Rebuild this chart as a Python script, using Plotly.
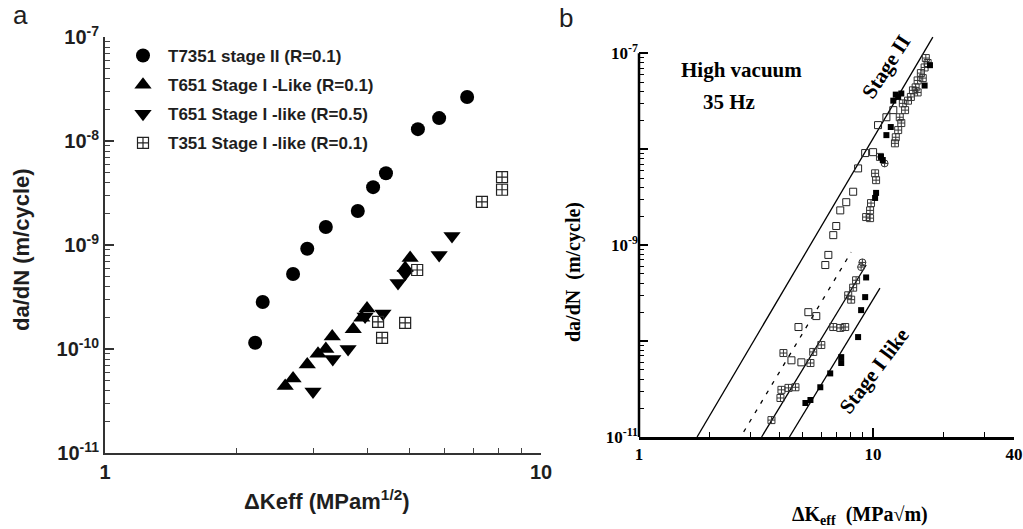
import plotly.graph_objects as go

# ---------------- Panel a data ----------------
t7351_x = [2.21, 2.30, 2.70, 2.91, 3.21, 3.80, 4.12, 4.41, 5.22, 5.84, 6.77]
t7351_y = [1.15e-10, 2.83e-10, 5.26e-10, 9.2e-10, 1.49e-9, 2.12e-9, 3.6e-9, 4.9e-9, 1.30e-8, 1.66e-8, 2.65e-8]
t651_r01_x = [2.59, 2.70, 2.91, 3.08, 3.21, 3.32, 3.71, 3.88, 3.99, 4.88, 5.01]
t651_r01_y = [4.4e-11, 5.2e-11, 7.1e-11, 9.0e-11, 1.0e-10, 1.32e-10, 1.55e-10, 2.0e-10, 2.45e-10, 6.0e-10, 7.5e-10]
t651_r05_x = [3.0, 3.33, 3.61, 3.95, 4.34, 4.70, 4.88, 5.84, 6.25]
t651_r05_y = [3.9e-11, 8.0e-11, 1.0e-10, 2.05e-10, 2.2e-10, 4.3e-10, 5.3e-10, 8.0e-10, 1.22e-9]
t351_x = [4.23, 4.32, 4.88, 5.20, 7.32, 8.14, 8.14]
t351_y = [1.82e-10, 1.28e-10, 1.78e-10, 5.75e-10, 2.6e-9, 4.5e-9, 3.4e-9]

# ---------------- Panel b data ----------------
open_sq_x = [4.80, 5.29, 5.72, 6.25, 6.44, 4.48, 4.94, 6.76, 6.96, 7.24, 7.68, 8.22, 8.63, 9.25, 10.0, 10.5, 11.4, 12.2]
open_sq_y = [1.40e-10, 2.0e-10, 1.82e-10, 6.2e-10, 7.9e-10, 6.3e-11, 6.0e-11, 1.27e-9, 1.58e-9, 2.3e-9, 2.8e-9, 3.6e-9,
             6.3e-9, 9.1e-9, 9.3e-9, 1.78e-8, 2.15e-8, 2.55e-8]
hatch_sq_x = [3.68, 4.02, 4.06, 4.35, 4.66, 4.14, 5.40, 5.55, 6.01, 6.76, 7.24, 7.60, 7.83, 8.06, 8.22, 8.46,
              9.34, 9.71, 9.71, 9.80, 10.3, 10.2, 10.7, 12.4, 12.5, 12.8, 13.2, 13.0, 13.7, 14.1, 14.5, 14.8,
              15.2, 15.5, 16.0, 16.6, 17.1, 16.8, 13.4, 15.5, 16.3]
hatch_sq_y = [1.5e-11, 2.55e-11, 3.1e-11, 3.25e-11, 3.3e-11, 7.5e-11, 5.9e-11, 7.7e-11, 9.1e-11, 1.40e-10, 1.37e-10,
              1.40e-10, 3.0e-10, 2.7e-10, 3.6e-10, 4.3e-10,
              1.96e-9, 2.3e-9, 1.91e-9, 2.74e-9, 4.75e-9, 5.6e-9, 8.3e-9, 1.15e-8, 1.33e-8, 1.58e-8, 1.87e-8,
              2.15e-8, 2.55e-8, 3.2e-8, 3.5e-8, 4.1e-8, 4.4e-8, 5.2e-8, 6.2e-8, 7.1e-8, 7.9e-8, 8.9e-8,
              3.0e-8, 3.9e-8, 5.5e-8]
circ_x = [8.89, 9.0, 11.2]
circ_y = [5.9e-10, 6.6e-10, 7.1e-9]
filled_sq_x = [5.14, 5.40, 5.95, 6.56, 7.31, 7.31, 8.63, 8.89, 9.25, 9.34,
               10.3, 10.8, 11.0, 11.4, 12.2, 12.5, 12.8, 13.2, 16.6, 17.5, 11.9, 10.2]
filled_sq_y = [2.26e-11, 2.43e-11, 3.3e-11, 4.6e-11, 5.9e-11, 6.8e-11, 1.10e-10, 2.1e-10, 2.87e-10, 4.6e-10,
               3.5e-9, 8.3e-9, 7.7e-9, 1.40e-8, 3.2e-8, 3.7e-8, 3.5e-8, 3.8e-8, 4.6e-8, 7.5e-8, 1.7e-8, 3.1e-9]

stage2_x = [1.77, 18.0]
stage2_y = [1e-11, 1.47e-7]
dashed_x = [2.80, 8.06]
dashed_y = [1.13e-11, 8.45e-10]
mid_x = [3.34, 9.34]
mid_y = [1e-11, 6.2e-10]
stage1_x = [4.39, 10.7]
stage1_y = [1e-11, 3.56e-10]

# tick definitions
decades = [1e-11, 1e-10, 1e-9, 1e-8, 1e-7]
decade_labels_a = ["10<sup>-11</sup>", "10<sup>-10</sup>", "10<sup>-9</sup>", "10<sup>-8</sup>", "10<sup>-7</sup>"]
decade_labels_b = ["10<sup>-11</sup>", "", "10<sup>-9</sup>", "", "10<sup>-7</sup>"]
minor_y = [m * d for d in [1e-11, 1e-10, 1e-9, 1e-8] for m in range(2, 10)]
minor_xa = [float(m) for m in range(2, 10)]
minor_xb = [float(m) for m in range(2, 10)] + [20.0, 30.0, 40.0]

W, H = 1023, 529
ax_a = dict(l=105, r=541, b=453, t=37)
ax_b = dict(l=639, r=1014, b=437, t=34)

SANS = "Liberation Sans, Arial, sans-serif"
SERIF = "Liberation Serif, Times New Roman, serif"
INK = "#1e1e1e"

fig = go.Figure()

# panel a traces
fig.add_trace(go.Scatter(x=t7351_x, y=t7351_y, mode="markers", name="<b>T7351 stage II (R=0.1)</b>",
                         marker=dict(symbol="circle", size=14, color="black"), legendgroup="g1",
                         xaxis="x", yaxis="y"))
fig.add_trace(go.Scatter(x=t651_r01_x, y=t651_r01_y, mode="markers", name="<b>T651 Stage I -Like (R=0.1)</b>",
                         marker=dict(symbol="triangle-up", size=15, color="black"), legendgroup="g2",
                         xaxis="x", yaxis="y"))
fig.add_trace(go.Scatter(x=t651_r05_x, y=t651_r05_y, mode="markers", name="<b>T651 Stage I -like (R=0.5)</b>",
                         marker=dict(symbol="triangle-down", size=15, color="black"), legendgroup="g3",
                         xaxis="x", yaxis="y"))
fig.add_trace(go.Scatter(x=t351_x, y=t351_y, mode="markers", name="<b>T351 Stage I -like (R=0.1)</b>",
                         marker=dict(symbol="square-cross-open", size=11, color="#222",
                                     line=dict(width=1.2, color="#222")), legendgroup="g4",
                         xaxis="x", yaxis="y"))

# panel b traces
line_style = dict(color="black", width=1.3)
fig.add_trace(go.Scatter(x=stage2_x, y=stage2_y, mode="lines", line=line_style, showlegend=False,
                         xaxis="x2", yaxis="y2"))
fig.add_trace(go.Scatter(x=dashed_x, y=dashed_y, mode="lines", line=dict(color="black", width=1.3, dash="4px,7px"),
                         showlegend=False, xaxis="x2", yaxis="y2"))
fig.add_trace(go.Scatter(x=mid_x, y=mid_y, mode="lines", line=line_style, showlegend=False,
                         xaxis="x2", yaxis="y2"))
fig.add_trace(go.Scatter(x=stage1_x, y=stage1_y, mode="lines", line=line_style, showlegend=False,
                         xaxis="x2", yaxis="y2"))
fig.add_trace(go.Scatter(x=open_sq_x, y=open_sq_y, mode="markers", showlegend=False,
                         marker=dict(symbol="square-open", size=7, color="#222", line=dict(width=1)),
                         xaxis="x2", yaxis="y2"))
fig.add_trace(go.Scatter(x=hatch_sq_x, y=hatch_sq_y, mode="markers", showlegend=False,
                         marker=dict(symbol="square-cross-open", size=7, color="#333", line=dict(width=1)),
                         xaxis="x2", yaxis="y2"))
fig.add_trace(go.Scatter(x=circ_x, y=circ_y, mode="markers", showlegend=False,
                         marker=dict(symbol="circle-cross-open", size=7, color="#333", line=dict(width=1)),
                         xaxis="x2", yaxis="y2"))
fig.add_trace(go.Scatter(x=filled_sq_x, y=filled_sq_y, mode="markers", showlegend=False,
                         marker=dict(symbol="square", size=6, color="black"),
                         xaxis="x2", yaxis="y2"))

# invisible traces to host minor-tick overlay axes
fig.add_trace(go.Scatter(x=[None], y=[None], mode="markers", showlegend=False, hoverinfo="skip",
                         xaxis="x3", yaxis="y3"))
fig.add_trace(go.Scatter(x=[None], y=[None], mode="markers", showlegend=False, hoverinfo="skip",
                         xaxis="x4", yaxis="y4"))


def px_dom_x(a, b):
    return [a / W, b / W]


def px_dom_y(top, bottom):
    return [1 - bottom / H, 1 - top / H]


dom_xa = px_dom_x(ax_a["l"], ax_a["r"])
dom_ya = px_dom_y(ax_a["t"], ax_a["b"])
dom_xb = px_dom_x(ax_b["l"], ax_b["r"])
dom_yb = px_dom_y(ax_b["t"], ax_b["b"])
rng_xb = [0, 1.602]
rng_yb = [-11, -6.8]

common = dict(showgrid=False, zeroline=False, fixedrange=True, automargin=False)

fig.update_layout(
    width=W, height=H,
    margin=dict(l=0, r=0, t=0, b=0, pad=0, autoexpand=False),
    paper_bgcolor="white", plot_bgcolor="white",
    showlegend=True,
    legend=dict(x=118 / W, y=1 - 38 / H, xanchor="left", yanchor="top",
                font=dict(family=SANS, size=17, color=INK),
                bgcolor="rgba(0,0,0,0)", tracegroupgap=4, traceorder="grouped",
                itemsizing="trace", itemwidth=40),
    # ---- panel a main axes
    xaxis=dict(type="log", domain=dom_xa, range=[0, 1], anchor="y", **common,
               showline=True, linecolor="#333", linewidth=2,
               ticks="inside", ticklen=9, tickwidth=1.5, tickcolor="#333",
               tickvals=[1, 10], ticktext=["<b>1</b>", "<b>10</b>"],
               tickfont=dict(family=SANS, size=20, color=INK)),
    yaxis=dict(type="log", domain=dom_ya, range=[-11, -7], anchor="x", **common,
               showline=True, linecolor="#333", linewidth=2,
               ticks="inside", ticklen=9, tickwidth=1.5, tickcolor="#333",
               tickvals=decades, ticktext=["<b>" + t + "</b>" for t in decade_labels_a],
               tickfont=dict(family=SANS, size=20, color=INK)),
    # ---- panel a minor tick overlays
    xaxis3=dict(type="log", range=[0, 1], overlaying="x", anchor="y", side="bottom", **common,
                showline=False, ticks="inside", ticklen=5, tickwidth=1.4, tickcolor="#444",
                tickvals=minor_xa, showticklabels=False),
    yaxis3=dict(type="log", range=[-11, -7], overlaying="y", anchor="x", side="left", **common,
                showline=False, ticks="inside", ticklen=5, tickwidth=1.4, tickcolor="#444",
                tickvals=minor_y, showticklabels=False),
    # ---- panel b main axes
    xaxis2=dict(type="log", domain=dom_xb, range=rng_xb, anchor="y2", **common,
                showline=True, linecolor="black", linewidth=3,
                ticks="inside", ticklen=9, tickwidth=1.5, tickcolor="black",
                tickvals=[1, 10, 40], ticktext=["<b>1</b>", "<b>10</b>", "<b>40</b>"],
                tickfont=dict(family=SERIF, size=17, color="black")),
    yaxis2=dict(type="log", domain=dom_yb, range=rng_yb, anchor="x2", **common,
                showline=False,
                ticks="inside", ticklen=9, tickwidth=1.5, tickcolor="black",
                tickvals=decades, ticktext=["<b>" + t + "</b>" if t else "" for t in decade_labels_b],
                tickfont=dict(family=SERIF, size=17, color="black")),
    # ---- panel b minor tick overlays
    xaxis4=dict(type="log", range=rng_xb, overlaying="x2", anchor="y2", side="bottom", **common,
                showline=False, ticks="inside", ticklen=5, tickwidth=1.4, tickcolor="black",
                tickvals=minor_xb, showticklabels=False),
    yaxis4=dict(type="log", range=rng_yb, overlaying="y2", anchor="x2", side="left", **common,
                showline=False, ticks="inside", ticklen=5, tickwidth=1.4, tickcolor="black",
                tickvals=minor_y, showticklabels=False),
)

# panel b y-axis line only up to 1e-7 (top decade)
fig.add_shape(type="line", xref="paper", yref="paper",
              x0=dom_xb[0], x1=dom_xb[0], y0=dom_yb[0],
              y1=dom_yb[0] + (dom_yb[1] - dom_yb[0]) * (4 / 4.2),
              line=dict(color="black", width=2.5))


def note(text, x, y, size, family, angle=0, color=INK):
    return dict(text=text, x=x / W, y=1 - y / H, xref="paper", yref="paper", showarrow=False,
                xanchor="center", yanchor="middle", textangle=angle,
                font=dict(family=family, size=size, color=color))


ann = [
    note("a", 20, 15, 26, SANS),
    note("b", 566, 18, 26, SANS),
    note("<b>da/dN (m/cycle)</b>", 21, 250, 22, SANS, angle=-90),
    note("<b>ΔKeff (MPam<sup>1/2</sup>)</b>", 327, 500, 22, SANS),
    note("<b>da/dN  (m/cycle)</b>", 573, 272, 20, SERIF, angle=-90, color="black"),
    note("<b>ΔK<sub>eff</sub>  (MPa√m)</b>", 860, 515, 20, SERIF, color="black"),
    note("<b>High vacuum</b>", 741, 70, 21, SERIF, color="black"),
    note("<b>35 Hz</b>", 729, 102, 21, SERIF, color="black"),
    note("<b>Stage II</b>", 886, 67, 21, SERIF, angle=-57, color="black"),
    note("<b>Stage I like</b>", 874, 371, 21, SERIF, angle=-53, color="black"),
]
fig.update_layout(annotations=ann)

fig.write_html("out.html", config={"displayModeBar": False},
               post_script="document.body.style.margin='0px';")
